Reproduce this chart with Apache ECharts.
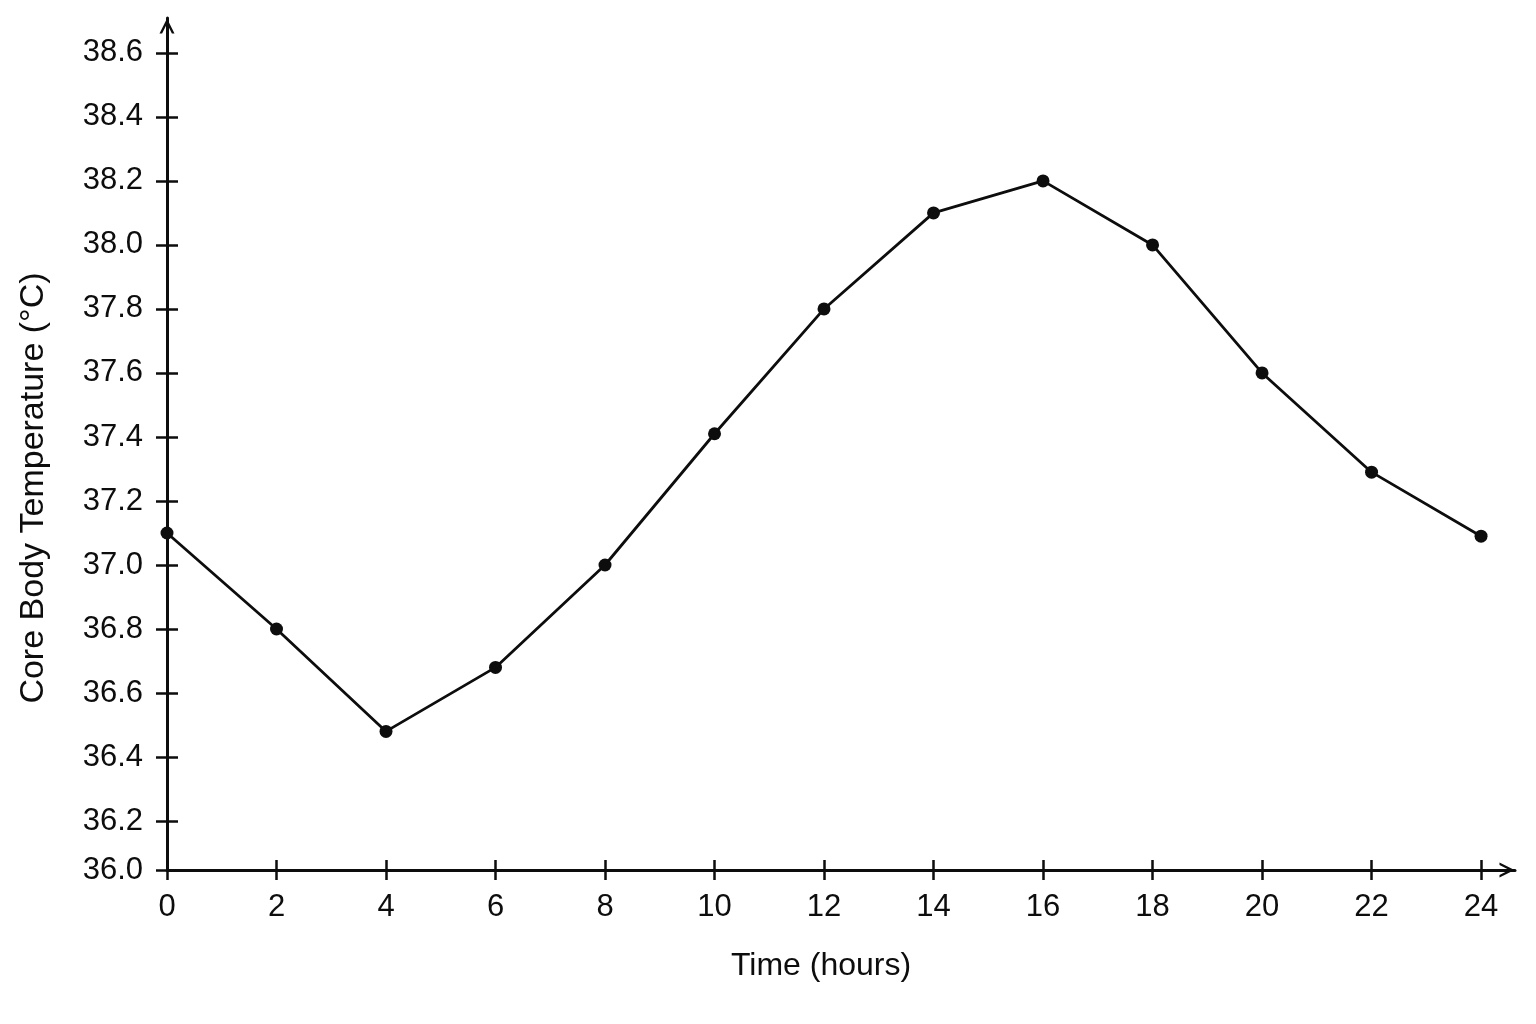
<!DOCTYPE html>
<html>
<head>
<meta charset="utf-8">
<script src="https://cdn.jsdelivr.net/npm/echarts@6/dist/echarts.min.js"></script>
<style>
  html, body { margin: 0; padding: 0; background: #fff; }
  #chart { width: 1536px; height: 1024px; }
</style>
</head>
<body>
<div id="chart"></div>
<script>
// data
const hours = [0, 2, 4, 6, 8, 10, 12, 14, 16, 18, 20, 22, 24];
const temperature = [37.1, 36.8, 36.48, 36.68, 37.0, 37.41, 37.8, 38.1, 38.2, 38.0, 37.6, 37.29, 37.09];

// y ticks: the bottom one sits on a shortened (broken) stretch of the axis
const yTickValues = [36.047, 36.2, 36.4, 36.6, 36.8, 37.0, 37.2, 37.4, 37.6, 37.8, 38.0, 38.2, 38.4, 38.6];
const yTickLabels = ['36.0', '36.2', '36.4', '36.6', '36.8', '37.0', '37.2', '37.4', '37.6', '37.8', '38.0', '38.2', '38.4', '38.6'];
const xTickValues = [0, 2, 4, 6, 8, 10, 12, 14, 16, 18, 20, 22, 24];

const font = "'Liberation Sans', Arial, sans-serif";
const ink = '#0d0d0d';
// open chevron for the axis ends
const chevron = 'path://M0,15 L7.5,0 L15,15 L12.4,15 L7.5,5.2 L2.6,15 Z';

let myChart = echarts.init(document.getElementById('chart'));

let yLabel = function (v) {
    let i = yTickValues.findIndex(t => Math.abs(t - v) < 1e-6);
    return i >= 0 ? yTickLabels[i] : '';
};

let option = {
    animation: false,
    backgroundColor: '#fff',
    grid: {
        left: 167,
        right: 21,
        top: 18,
        bottom: 154
    },
    xAxis: [
        {
            type: 'value',
            min: 0,
            max: 24.62,
            name: 'Time (hours)',
            nameLocation: 'middle',
            nameGap: 80,
            nameTextStyle: {fontFamily: font, fontSize: 32, color: ink, padding: [0, 40, 0, 0]},
            splitLine: {show: false},
            axisLine: {
                show: true,
                symbol: ['none', chevron],
                symbolSize: [15, 16],
                symbolOffset: [0, -8],
                lineStyle: {color: ink, width: 3}
            },
            axisTick: {show: true, length: 10, customValues: xTickValues, lineStyle: {color: ink, width: 2.5}},
            axisLabel: {
                customValues: xTickValues,
                margin: 22,
                fontFamily: font,
                fontSize: 31,
                color: ink
            }
        },
        {
            // upper half of the crossing ticks
            type: 'value',
            position: 'bottom',
            min: 0,
            max: 24.62,
            splitLine: {show: false},
            axisLine: {show: false},
            axisTick: {show: true, inside: true, length: 10, customValues: xTickValues, lineStyle: {color: ink, width: 2.5}},
            axisLabel: {show: false}
        }
    ],
    yAxis: [
        {
            type: 'value',
            min: 36.047,
            max: 38.709,
            name: 'Core Body Temperature (°C)',
            nameLocation: 'middle',
            nameGap: 116,
            nameTextStyle: {fontFamily: font, fontSize: 34, color: ink, padding: [0, 88, 0, 0]},
            splitLine: {show: false},
            axisLine: {
                show: true,
                symbol: ['none', chevron],
                symbolSize: [15, 16],
                symbolOffset: [0, -8],
                lineStyle: {color: ink, width: 3}
            },
            axisTick: {show: true, length: 11, customValues: yTickValues, lineStyle: {color: ink, width: 2.5}},
            axisLabel: {
                customValues: yTickValues,
                formatter: yLabel,
                margin: 24,
                fontFamily: font,
                fontSize: 31,
                color: ink
            }
        },
        {
            type: 'value',
            position: 'left',
            min: 36.047,
            max: 38.709,
            splitLine: {show: false},
            axisLine: {show: false},
            axisTick: {show: true, inside: true, length: 11, customValues: yTickValues.slice(1), lineStyle: {color: ink, width: 2.5}},
            axisLabel: {show: false}
        }
    ],
    series: [
        {
            type: 'line',
            data: hours.map((h, i) => [h, temperature[i]]),
            symbol: 'circle',
            symbolSize: 13,
            lineStyle: {color: ink, width: 2.8},
            itemStyle: {color: ink},
            z: 5
        }
    ]
};
myChart.setOption(option);
</script>
</body>
</html>
